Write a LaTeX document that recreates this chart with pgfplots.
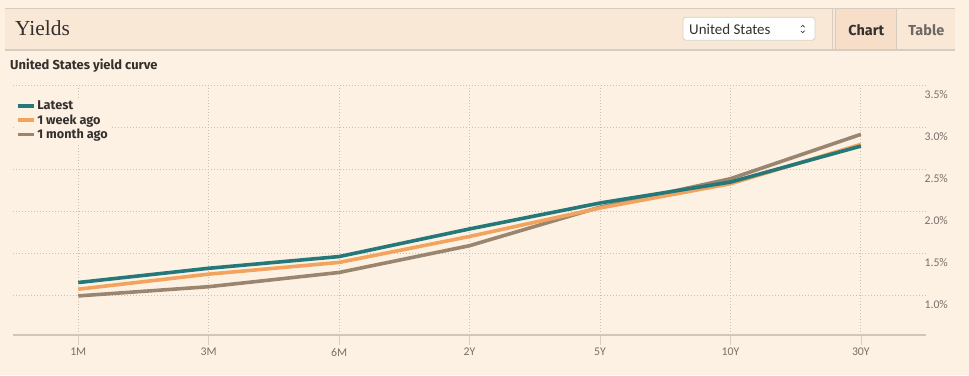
\documentclass[border=0pt]{standalone}
\usepackage{pgfplots}
\pgfplotsset{compat=1.18}
\usepackage{fontspec}
\setmainfont{Fira Sans}
\newfontfamily\carl{Carlito}
\newfontfamily\serifH{Liberation Serif}
\definecolor{bg}{HTML}{FDF1E3}
\definecolor{headbg}{HTML}{FAE8D6}
\definecolor{tabbg}{HTML}{F6DEC8}
\definecolor{border}{HTML}{D6CCBF}
\definecolor{ddborder}{HTML}{D9D1C6}
\definecolor{dark}{HTML}{33302E}
\definecolor{midgray}{HTML}{6E6862}
\definecolor{ticktext}{HTML}{77706A}
\definecolor{gridcol}{HTML}{CBBFAF}
\definecolor{axiscol}{HTML}{D2C6B6}
\definecolor{tickcol}{HTML}{D8CEC2}
\definecolor{cteal}{HTML}{25787A}
\definecolor{corange}{HTML}{F2A35E}
\definecolor{cbrown}{HTML}{9A8670}
\begin{document}
\begin{tikzpicture}[x=1bp,y=1bp]
\fill[bg] (0,0) rectangle (969,375);
% header band
\fill[headbg] (5,375-9) rectangle (955,375-49);
\fill[tabbg] (835,375-9) rectangle (896.5,375-49);
\draw[border, line width=1.5bp] (5,375-8.5) -- (955,375-8.5);
\draw[border, line width=2bp] (5,375-49.5) -- (955,375-49.5);
\draw[border, line width=0.8bp] (832.3,375-9) -- (832.3,375-49);
\draw[border, line width=0.8bp] (835,375-9) -- (835,375-49);
\draw[border, line width=0.8bp] (896.5,375-9) -- (896.5,375-49);
\filldraw[fill=white, draw=ddborder, line width=0.8bp, rounded corners=3bp] (683,375-17.3) rectangle (815,375-40.3);
\node[anchor=base west, font=\carl\fontsize{15}{17}\selectfont, text=dark, inner sep=0] at (689,375-34.7) {United States};
\draw[dark, line width=0.6bp] (800.8,375-27.2) -- (802.7,375-25.3) -- (804.6,375-27.2);
\draw[dark, line width=0.6bp] (800.8,375-30.8) -- (802.7,375-32.7) -- (804.6,375-30.8);
\node[anchor=base, font=\bfseries\fontsize{14.5}{16}\selectfont, text=dark, inner sep=0] at (866.3,375-35.3) {Chart};
\node[anchor=base, font=\bfseries\fontsize{14.5}{16}\selectfont, text=midgray, inner sep=0] at (926.3,375-35.3) {Table};
\node[anchor=base west, font=\serifH\fontsize{21.5}{24}\selectfont, text=dark, inner sep=0] at (15,375-35) {Yields};
\node[anchor=base west, font=\bfseries\fontsize{13}{14}\selectfont, text=dark, inner sep=0] at (10,375-69.5) {United States yield curve};
\begin{axis}[
  at={(10,48)}, anchor=south west,
  width=913bp, height=249bp, scale only axis,
  xmin=-0.5, xmax=6.5, ymin=0.525, ymax=3.5,
  separate axis lines,
  axis x line*=bottom, axis y line*=right,
  x axis line style={draw=axiscol, line width=2bp},
  y axis line style={draw=none},
  xtick={0,...,6},
  xticklabels={1M,3M,6M,2Y,5Y,10Y,30Y},
  xtick align=outside,
  major tick length=10bp,
  xtick style={draw=tickcol, line width=0.6bp},
  ytick={1,1.5,2,2.5,3,3.5},
  ytick style={draw=none},
  yticklabel={\pgfmathprintnumber[fixed, fixed zerofill, precision=1]{\tick}\%},
  /pgf/number format/assume math mode=true,
  ticklabel style={font=\carl\fontsize{11.8}{13}\selectfont, text=ticktext},
  yticklabel style={anchor=west, xshift=-5bp, yshift=-9bp},
  grid=major,
  major grid style={draw=gridcol, line width=0.8bp, dash pattern=on 1bp off 2bp},
  legend cell align=left,
  legend image code/.code={\draw[#1, line width=3.4bp, line cap=butt] (0bp,0bp) -- (16bp,0bp);},
  legend style={at={(rel axis cs:0.003,0.952)}, anchor=north west, draw=none, fill=bg,
    inner xsep=0bp, inner ysep=1bp, font=\bfseries\fontsize{12.7}{13.5}\selectfont, text=dark,
    row sep=-0.8bp, /tikz/every even column/.append style={column sep=4bp}},
  every axis plot/.append style={line width=3.6bp, line join=round, mark=none},
]
\addplot[cbrown, forget plot] coordinates {(0,0.99) (1,1.10) (2,1.27) (3,1.59) (4,2.05) (5,2.39) (6,2.92)};
\addplot[corange, forget plot] coordinates {(0,1.07) (1,1.25) (2,1.39) (3,1.70) (4,2.04) (5,2.33) (6,2.80)};
\addplot[cteal] coordinates {(0,1.15) (1,1.32) (2,1.46) (3,1.79) (4,2.10) (5,2.35) (6,2.78)};
\addlegendentry{Latest}
\addlegendimage{corange}
\addlegendentry{1 week ago}
\addlegendimage{cbrown}
\addlegendentry{1 month ago}
\end{axis}
\end{tikzpicture}
\end{document}
